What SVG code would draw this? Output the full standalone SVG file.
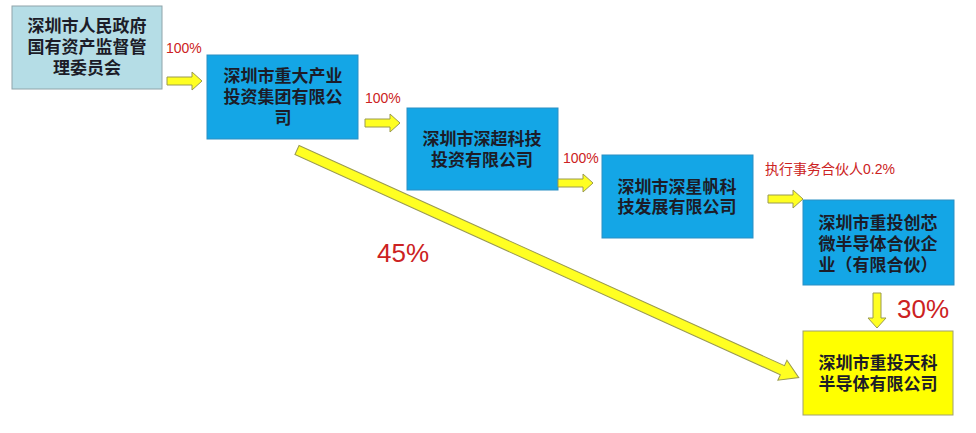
<svg xmlns="http://www.w3.org/2000/svg" width="976" height="433" viewBox="0 0 976 433">
<defs>
<style>
.box{fill:#14a6e6;stroke:#2a8fc4;stroke-width:1}
.t{font-family:"Noto Sans CJK SC","Liberation Serif",serif;font-size:17px;font-weight:bold;fill:#1c1c28;text-anchor:middle}
.pct{font-family:"Liberation Sans","Noto Sans CJK SC",sans-serif;fill:#cc2222}
.arr{fill:#ffff22;stroke:#9a9a50;stroke-width:1}
</style>
<polygon id="sa" points="0,-4 25,-4 25,-9 35,0 25,9 25,4 0,4"/>
</defs>
<rect width="976" height="433" fill="#ffffff"/>
<g id="n1">
<rect x="12" y="6" width="150" height="83" fill="#b5dde6" stroke="#8fa4aa"/>
<text class="t" x="87" y="32">深圳市人民政府</text>
<text class="t" x="87" y="53">国有资产监督管</text>
<text class="t" x="87" y="74">理委员会</text>
</g>
<g id="n2">
<rect class="box" x="207" y="55" width="151" height="84"/>
<text class="t" x="283" y="82">深圳市重大产业</text>
<text class="t" x="283" y="103">投资集团有限公</text>
<text class="t" x="283" y="124">司</text>
</g>
<g id="n3">
<rect class="box" x="407" y="108" width="151" height="82"/>
<text class="t" x="482" y="145">深圳市深超科技</text>
<text class="t" x="482" y="166">投资有限公司</text>
</g>
<g id="n4">
<rect class="box" x="602" y="155" width="151" height="83"/>
<text class="t" x="677" y="193">深圳市深星帆科</text>
<text class="t" x="677" y="213">技发展有限公司</text>
</g>
<g id="n5">
<rect class="box" x="803" y="200" width="151" height="85"/>
<text class="t" x="878" y="229">深圳市重投创芯</text>
<text class="t" x="878" y="250">微半导体合伙企</text>
<text class="t" x="878" y="271">业（有限合伙）</text>
</g>
<g id="n6">
<rect x="803" y="331" width="150" height="84" fill="#ffff00" stroke="#a0a070"/>
<text class="t" x="878" y="369">深圳市重投天科</text>
<text class="t" x="878" y="390">半导体有限公司</text>
</g>
<g id="connectors">
<use href="#sa" class="arr" transform="translate(167,81)"/>
<use href="#sa" class="arr" transform="translate(365,123)"/>
<use href="#sa" class="arr" transform="translate(558,183)"/>
<use href="#sa" class="arr" transform="translate(768,199)"/>
<use href="#sa" class="arr" transform="translate(877,293) rotate(90)"/>
<polygon class="arr" transform="translate(297,150) rotate(24.4)" points="0,-5 533,-5 533,-11 551,0 533,11 533,5 0,5"/>
</g>
<g id="labels">
<text class="pct" x="166" y="53" font-size="14">100%</text>
<text class="pct" x="365" y="103" font-size="14">100%</text>
<text class="pct" x="563" y="163" font-size="14">100%</text>
<text class="pct" x="765" y="174" font-size="14">执行事务合伙人0.2%</text>
<text class="pct" x="377" y="262" font-size="26">45%</text>
<text class="pct" x="897" y="318" font-size="26">30%</text>
</g>
</svg>
